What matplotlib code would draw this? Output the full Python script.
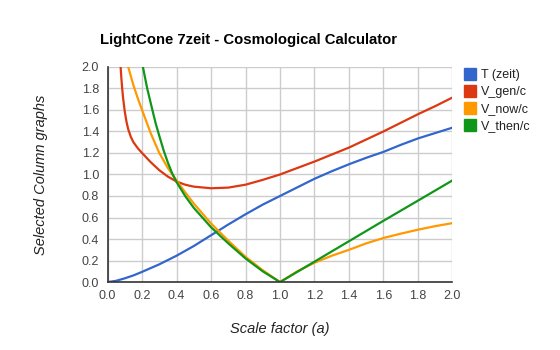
import matplotlib
matplotlib.use("Agg")
import matplotlib.pyplot as plt
from matplotlib.lines import Line2D

plt.rcParams['font.family'] = ['Liberation Sans', 'DejaVu Sans']

# values
a_zeit = [0.0, 0.05, 0.1, 0.15, 0.2, 0.3, 0.4, 0.5, 0.6, 0.7, 0.8, 0.9, 1.0,
          1.1, 1.2, 1.3, 1.4, 1.5, 1.6, 1.7, 1.8, 1.9, 2.0]
t_zeit = [0.0, 0.012, 0.035, 0.062, 0.095, 0.165, 0.245, 0.335, 0.435, 0.535, 0.63, 0.72, 0.8,
          0.88, 0.96, 1.03, 1.095, 1.155, 1.21, 1.275, 1.335, 1.385, 1.435]

a_gen = [0.072, 0.076, 0.08, 0.085, 0.09, 0.1, 0.11, 0.12, 0.135, 0.15, 0.175, 0.2, 0.25, 0.3,
         0.35, 0.4, 0.45, 0.5, 0.6, 0.7, 0.8, 0.9, 1.0,
         1.1, 1.2, 1.3, 1.4, 1.5, 1.6, 1.7, 1.8, 1.9, 2.0]
v_gen = [2.12, 2.0, 1.9, 1.8, 1.715, 1.585, 1.49, 1.42, 1.35, 1.3, 1.245, 1.2, 1.115, 1.04,
         0.98, 0.935, 0.905, 0.887, 0.872, 0.878, 0.905, 0.95, 1.0,
         1.06, 1.12, 1.185, 1.25, 1.325, 1.4, 1.48, 1.56, 1.635, 1.715]

a_now = [0.11, 0.12, 0.15, 0.175, 0.2, 0.25, 0.3, 0.35, 0.4, 0.45, 0.5, 0.6, 0.7, 0.8, 0.9, 1.0,
         1.1, 1.2, 1.3, 1.4, 1.5, 1.6, 1.7, 1.8, 1.9, 2.0]
v_now = [2.07, 2.0, 1.83, 1.71, 1.6, 1.385, 1.2, 1.06, 0.945, 0.835, 0.73, 0.545, 0.385, 0.235, 0.11, 0.0,
         0.1, 0.18, 0.245, 0.3, 0.36, 0.41, 0.45, 0.487, 0.52, 0.548]

a_then = [0.2, 0.205, 0.23, 0.26, 0.28, 0.3, 0.325, 0.35, 0.375, 0.4, 0.45, 0.5, 0.6, 0.7, 0.8, 0.9, 1.0,
          1.2, 1.4, 1.6, 1.8, 2.0]
v_then = [2.06, 2.0, 1.8, 1.6, 1.47, 1.36, 1.225, 1.11, 1.01, 0.93, 0.8, 0.69, 0.51, 0.36, 0.22, 0.1, 0.0,
          0.19, 0.38, 0.57, 0.757, 0.945]

labels = ['T (zeit)', 'V_gen/c', 'V_now/c', 'V_then/c']
colors = ['#3366cc', '#dc3912', '#ff9900', '#109618']

fig = plt.figure(figsize=(5.6, 3.5), dpi=100)
ax = fig.add_axes([0.192, 0.194, 0.616, 0.615])

series = [(a_zeit, t_zeit), (a_gen, v_gen), (a_now, v_now), (a_then, v_then)]
for (x, y), c in zip(series, colors):
    ax.plot(x, y, color=c, lw=1.6, solid_joinstyle='round')

ax.set_xlim(0, 2.0)
ax.set_ylim(0, 2.0)
ticks = [i / 5 for i in range(11)]
ax.set_xticks(ticks)
ax.set_yticks(ticks)
ax.set_xticklabels(['%.1f' % t for t in ticks])
ax.set_yticklabels(['%.1f' % t for t in ticks])
ax.tick_params(length=0, labelsize=9, colors='#444444', pad=6)
ax.grid(True, color='#cccccc', lw=1)
ax.set_axisbelow(True)
for s in ['top', 'right']:
    ax.spines[s].set_visible(False)
for s in ['left', 'bottom']:
    ax.spines[s].set_color('#333333')
    ax.spines[s].set_linewidth(1.2)

ax.set_xlabel('Scale factor (a)', fontsize=10.5, style='italic', color='#222222', labelpad=14)
ax.set_ylabel('Selected Column graphs', fontsize=10.5, style='italic', color='#222222', labelpad=24)

fig.text(100 / 560, 1 - 40 / 350, 'LightCone 7zeit - Cosmological Calculator',
         fontsize=10.7, fontweight='bold', va='center', ha='left', color='#000000')

handles = [Line2D([], [], marker='s', ls='none', markersize=8.5, color=c) for c in colors]
fig.legend(handles, labels, loc='upper left', bbox_to_anchor=(460 / 560, 1 - 64 / 350),
           frameon=False, fontsize=9, handlelength=0.8, handletextpad=0.5,
           labelspacing=0.4, borderaxespad=0, labelcolor='#222222')

fig.savefig('out.png', dpi=100)
